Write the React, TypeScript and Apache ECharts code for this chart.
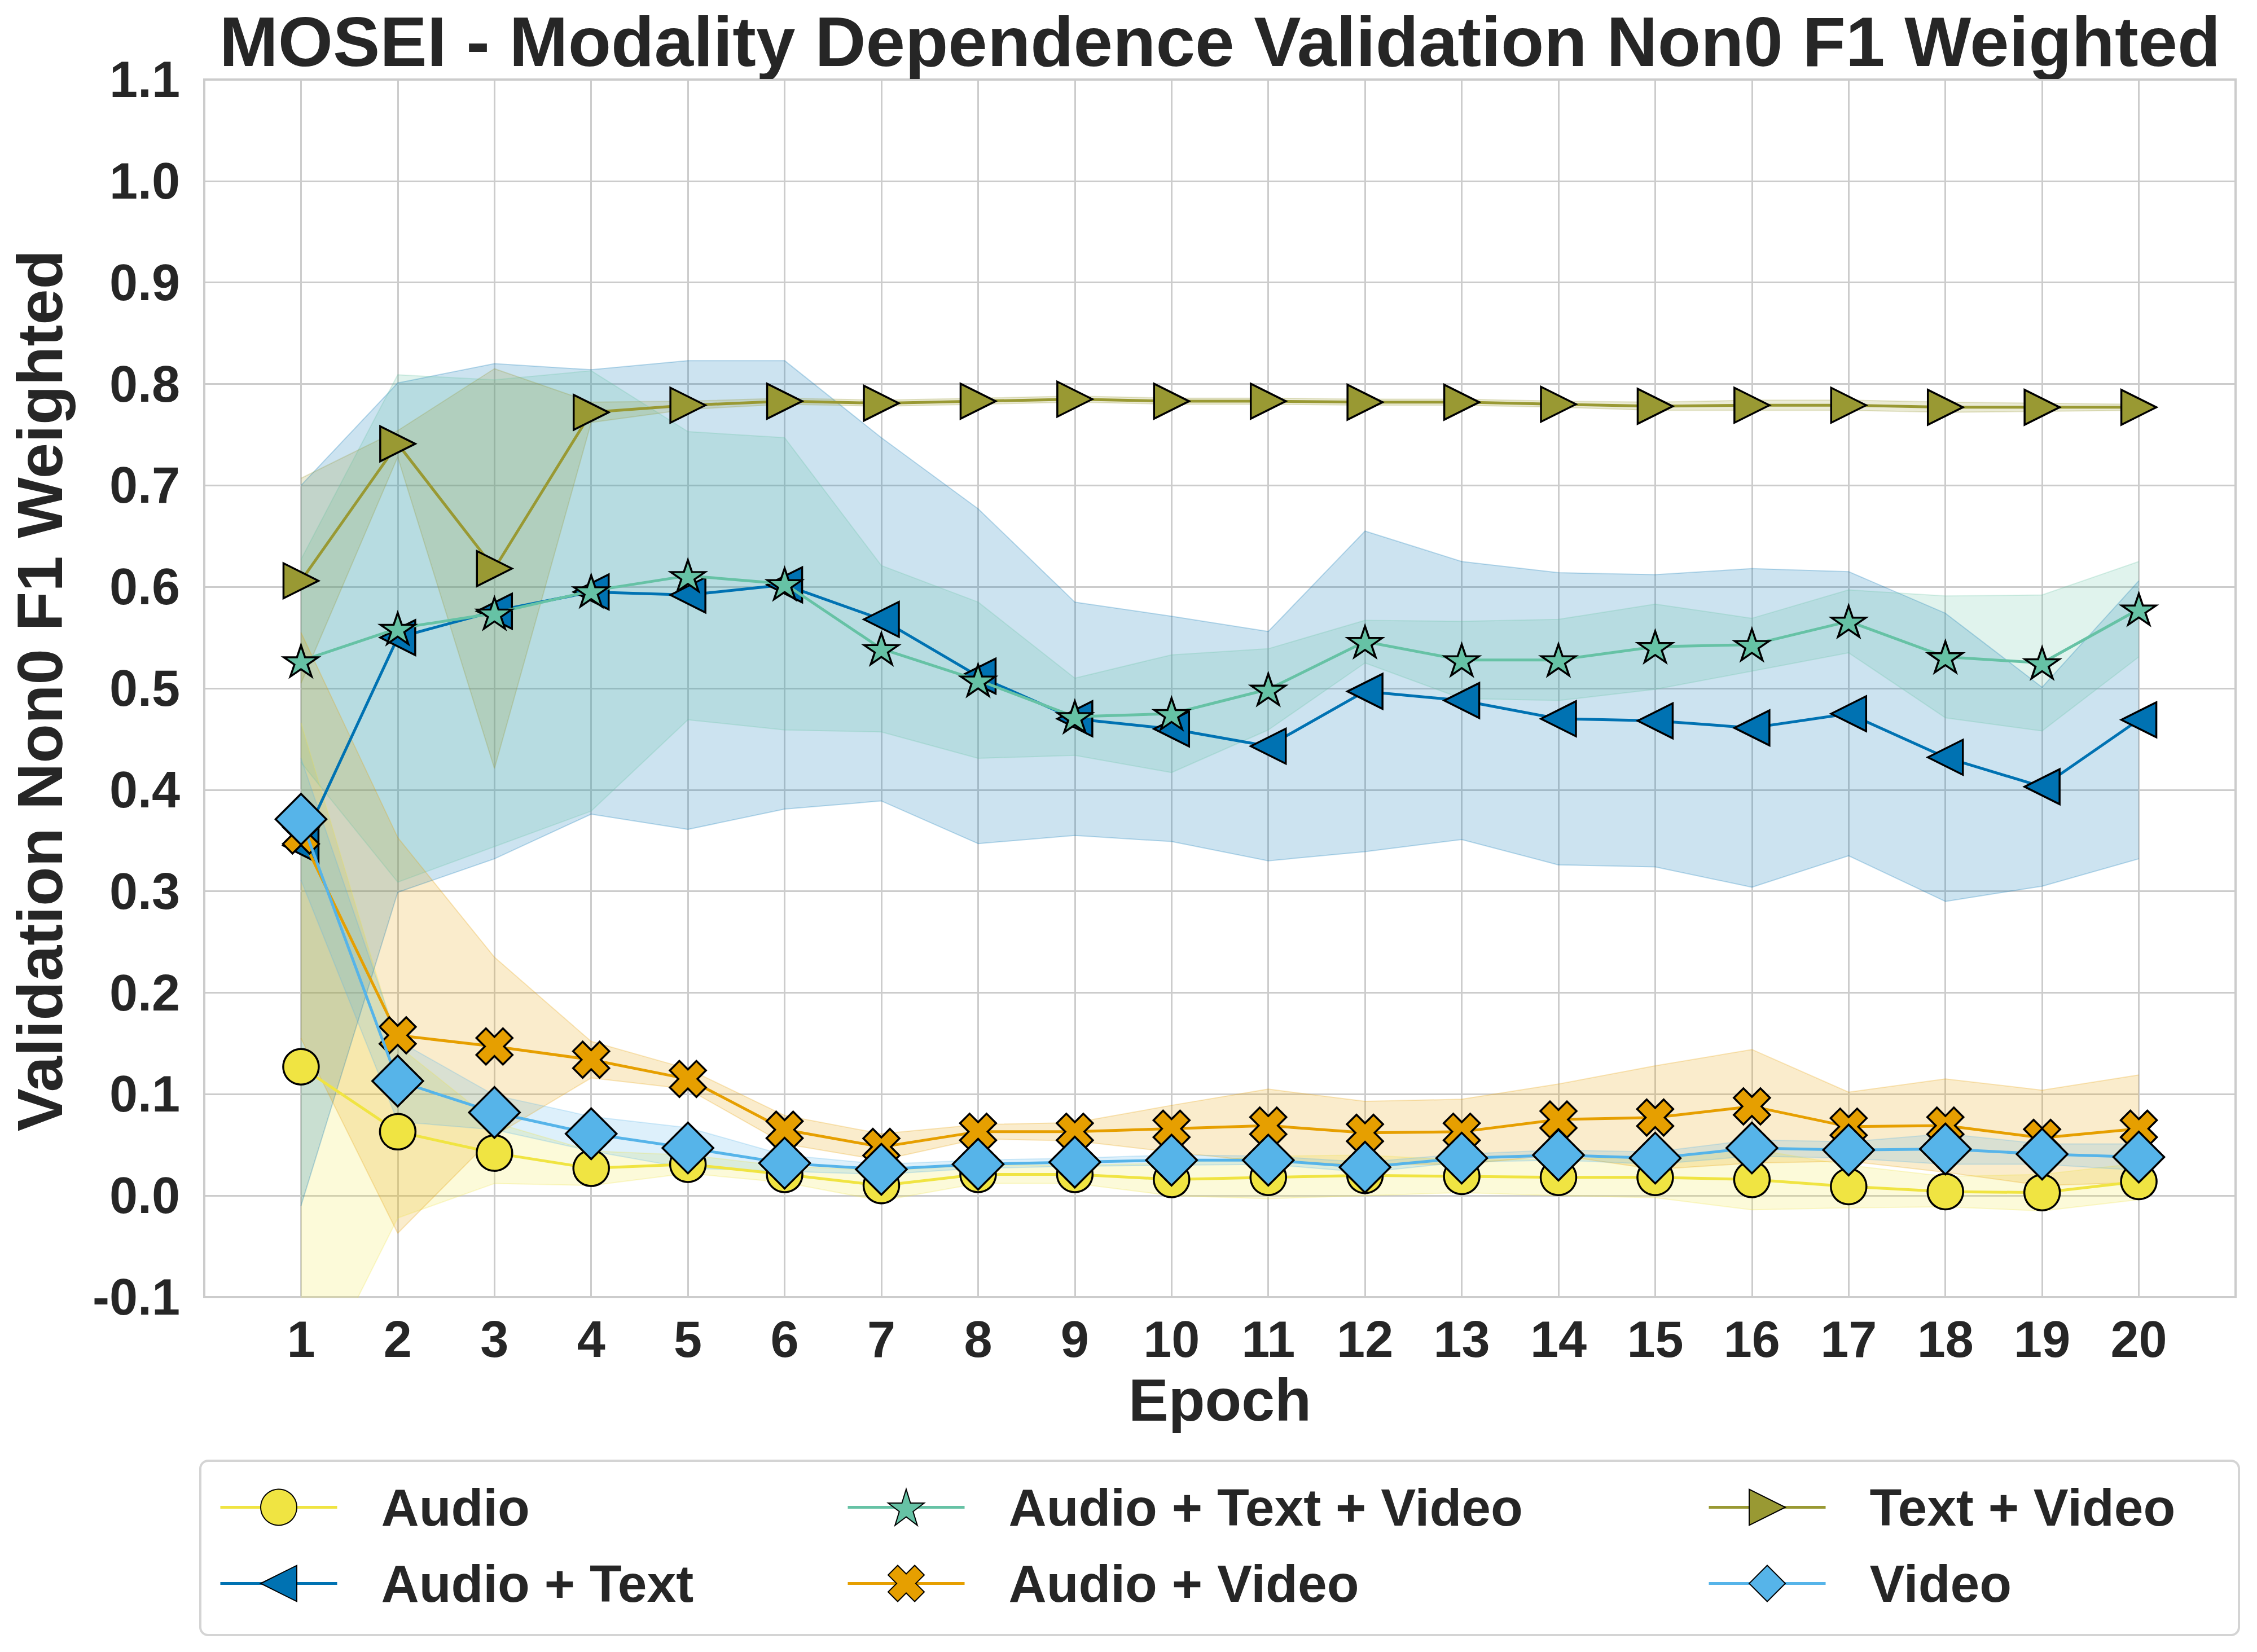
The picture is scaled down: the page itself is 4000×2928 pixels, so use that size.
import { useEffect, useRef } from "react"
import * as echarts from "echarts"

// epochs 1..20, the x axis runs from 0 to 21 like the matplotlib xlim
const epochs = [1, 2, 3, 4, 5, 6, 7, 8, 9, 10, 11, 12, 13, 14, 15, 16, 17, 18, 19, 20]

const audioMean = [0.127, 0.063, 0.042, 0.027, 0.031, 0.021, 0.01, 0.021, 0.021, 0.016, 0.018, 0.02, 0.019, 0.018, 0.018, 0.016, 0.009, 0.004, 0.003, 0.014]
const audioStd = [0.339, 0.085, 0.03, 0.017, 0.009, 0.008, 0.015, 0.009, 0.009, 0.016, 0.021, 0.02, 0.016, 0.018, 0.02, 0.03, 0.021, 0.015, 0.018, 0.018]

const audioTextMean = [0.345, 0.55, 0.576, 0.595, 0.592, 0.602, 0.568, 0.512, 0.47, 0.46, 0.443, 0.497, 0.488, 0.47, 0.468, 0.461, 0.475, 0.432, 0.403, 0.469]
const audioTextStd = [0.355, 0.251, 0.244, 0.219, 0.231, 0.221, 0.179, 0.165, 0.115, 0.111, 0.113, 0.158, 0.137, 0.144, 0.144, 0.157, 0.14, 0.142, 0.098, 0.137]

const audioTextVideoMean = [0.527, 0.559, 0.574, 0.596, 0.611, 0.603, 0.539, 0.508, 0.472, 0.475, 0.499, 0.546, 0.528, 0.528, 0.541, 0.543, 0.566, 0.531, 0.525, 0.578]
const audioTextVideoStd = [0.1, 0.25, 0.23, 0.217, 0.142, 0.144, 0.082, 0.077, 0.038, 0.058, 0.04, 0.021, 0.038, 0.04, 0.042, 0.026, 0.031, 0.06, 0.067, 0.047]

const audioVideoMean = [0.355, 0.158, 0.147, 0.134, 0.115, 0.065, 0.048, 0.063, 0.063, 0.066, 0.069, 0.062, 0.063, 0.075, 0.077, 0.088, 0.068, 0.069, 0.057, 0.066]
const audioVideoStd = [0.2, 0.195, 0.088, 0.018, 0.01, 0.014, 0.013, 0.007, 0.009, 0.023, 0.036, 0.031, 0.032, 0.035, 0.051, 0.056, 0.034, 0.046, 0.047, 0.053]

const textVideoMean = [0.606, 0.741, 0.618, 0.772, 0.779, 0.783, 0.781, 0.783, 0.785, 0.783, 0.783, 0.782, 0.782, 0.78, 0.778, 0.779, 0.779, 0.777, 0.777, 0.777]
const textVideoStd = [0.101, 0.013, 0.197, 0.01, 0.004, 0.003, 0.003, 0.003, 0.003, 0.003, 0.003, 0.003, 0.003, 0.003, 0.004, 0.005, 0.005, 0.005, 0.004, 0.003]

const videoMean = [0.371, 0.113, 0.082, 0.061, 0.047, 0.032, 0.026, 0.031, 0.033, 0.035, 0.035, 0.028, 0.037, 0.04, 0.037, 0.047, 0.045, 0.046, 0.041, 0.038]
const videoStd = [0.06, 0.04, 0.017, 0.017, 0.02, 0.008, 0.005, 0.004, 0.004, 0.005, 0.004, 0.005, 0.004, 0.005, 0.006, 0.008, 0.008, 0.015, 0.01, 0.013]

const Y_MIN = -0.1
const Y_MAX = 1.1
const Y_STEP = 0.1

const FONT = "Liberation Sans"
const INK = "#262626"

// star and filled X marker outlines (matplotlib '*' and 'X')
function starPath() {
  const pts: string[] = []
  for (let i = 0; i < 10; i++) {
    const r = i % 2 === 0 ? 1 : 0.382
    const a = -Math.PI / 2 + (i * Math.PI) / 5
    pts.push(`${(r * Math.cos(a)).toFixed(4)} ${(r * Math.sin(a)).toFixed(4)}`)
  }
  return "path://M" + pts.join(" L") + " Z"
}

function xPath() {
  const w = 0.36
  const plus = [
    [-1, -w], [-1, w], [-w, w], [-w, 1], [w, 1], [w, w],
    [1, w], [1, -w], [w, -w], [w, -1], [-w, -1], [-w, -w],
  ]
  const c = Math.SQRT1_2
  const pts = plus.map(([x, y]) => `${((x - y) * c).toFixed(4)} ${((x + y) * c).toFixed(4)}`)
  return "path://M" + pts.join(" L") + " Z"
}

const SERIES = [
  { name: "Audio", mean: audioMean, std: audioStd, color: "#F0E442", symbol: "circle", size: 63, rotate: 0 },
  { name: "Audio + Text", mean: audioTextMean, std: audioTextStd, color: "#0072B2", symbol: "triangle", size: 62, rotate: 90 },
  { name: "Audio + Text + Video", mean: audioTextVideoMean, std: audioTextVideoStd, color: "#66C2A5", symbol: starPath(), size: [61, 58], rotate: 0 },
  { name: "Audio + Video", mean: audioVideoMean, std: audioVideoStd, color: "#E69F00", symbol: xPath(), size: 64, rotate: 0 },
  { name: "Text + Video", mean: textVideoMean, std: textVideoStd, color: "#999933", symbol: "triangle", size: 62, rotate: -90 },
  { name: "Video", mean: videoMean, std: videoStd, color: "#56B4E9", symbol: "diamond", size: 90, rotate: 0 },
]

const pad = (arr: number[]) => [null, ...arr, null]

export default function App() {
  const chartRef = useRef<HTMLDivElement>(null)

  useEffect(() => {
    if (!chartRef.current) return
    document.body.style.margin = "0"
    const chart = echarts.init(chartRef.current, null, { renderer: "svg" })

    const categories = ["0", ...epochs.map(String), String(epochs.length + 1)]

    const bandSeries: any[] = []
    SERIES.forEach((s, i) => {
      const lower = s.mean.map((m, k) => m - s.std[k])
      const width = s.std.map((d) => 2 * d)
      bandSeries.push({
        type: "line",
        name: `${s.name} low`,
        data: pad(lower),
        stack: `band${i}`,
        stackStrategy: "all",
        symbol: "none",
        silent: true,
        z: 1,
        lineStyle: { color: s.color, width: 2, opacity: 0.25 },
      })
      bandSeries.push({
        type: "line",
        name: `${s.name} band`,
        data: pad(width),
        stack: `band${i}`,
        stackStrategy: "all",
        symbol: "none",
        silent: true,
        z: 1,
        lineStyle: { color: s.color, width: 2, opacity: 0.25 },
        areaStyle: { color: s.color, opacity: 0.2 },
      })
    })

    const lineSeries = SERIES.map((s, i) => ({
      type: "line",
      name: s.name,
      data: pad(s.mean),
      symbol: s.symbol,
      symbolSize: s.size,
      symbolRotate: s.rotate,
      symbolKeepAspect: true,
      showAllSymbol: true,
      z: 3 + i,
      lineStyle: { color: s.color, width: 5 },
      itemStyle: { color: s.color, borderColor: "#000", borderWidth: 3.5 },
      emphasis: { disabled: true },
    }))

    const legendCol = (left: number, names: string[]) => ({
      orient: "vertical",
      left,
      top: 2625,
      padding: 0,
      itemGap: 42,
      itemWidth: 207,
      itemHeight: 80,
      selectedMode: false,
      data: names,
      lineStyle: { width: 5, opacity: 1 },
      textStyle: {
        fontFamily: FONT,
        fontWeight: "bold",
        fontSize: 93,
        color: INK,
        lineHeight: 80,
        padding: [0, 0, 0, 73],
      },
    })

    const option: echarts.EChartsOption = {
      animation: false,
      backgroundColor: "#ffffff",
      grid: {
        left: 362,
        top: 141,
        width: 3600,
        height: 2158,
        show: true,
        borderColor: "#cccccc",
        borderWidth: 4,
        backgroundColor: "#ffffff",
      },
      xAxis: {
        type: "category",
        data: categories,
        boundaryGap: false,
        axisLine: { show: false },
        axisTick: { show: false },
        axisLabel: {
          interval: 0,
          margin: 30,
          fontFamily: FONT,
          fontWeight: "bold",
          fontSize: 90,
          color: INK,
          formatter: (v: string, idx: number) => (idx === 0 || idx === categories.length - 1 ? "" : v),
        },
        splitLine: { show: true, interval: 0, lineStyle: { color: "#cccccc", width: 3 } },
      },
      yAxis: {
        type: "value",
        min: Y_MIN,
        max: Y_MAX,
        interval: Y_STEP,
        axisLine: { show: false },
        axisTick: { show: false },
        axisLabel: {
          margin: 43,
          fontFamily: FONT,
          fontWeight: "bold",
          fontSize: 90,
          color: INK,
          formatter: (v: number) => v.toFixed(1),
        },
        splitLine: { show: true, lineStyle: { color: "#cccccc", width: 3 } },
      },
      legend: [
        legendCol(388, ["Audio", "Audio + Text"]),
        legendCol(1500, ["Audio + Text + Video", "Audio + Video"]),
        legendCol(3026, ["Text + Video", "Video"]),
      ] as any,
      graphic: [
        {
          type: "rect",
          z: 0,
          shape: { x: 355, y: 2589, width: 3613, height: 309, r: 14 },
          style: { fill: "#ffffff", stroke: "#d4d4d4", lineWidth: 4 },
        },
        {
          type: "text",
          x: 2162,
          y: 73,
          style: {
            text: "MOSEI - Modality Dependence Validation Non0 F1 Weighted",
            fontFamily: FONT,
            fontWeight: "bold",
            fontSize: 125,
            fill: INK,
            align: "center",
            verticalAlign: "middle",
            textAlign: "center",
            textVerticalAlign: "middle",
          },
        },
        {
          type: "text",
          x: 2162,
          y: 2481,
          style: {
            text: "Epoch",
            fontFamily: FONT,
            fontWeight: "bold",
            fontSize: 106,
            fill: INK,
            align: "center",
            verticalAlign: "middle",
            textAlign: "center",
            textVerticalAlign: "middle",
          },
        },
        {
          type: "text",
          x: 70,
          y: 1224,
          rotation: Math.PI / 2,
          style: {
            text: "Validation Non0 F1 Weighted",
            fontFamily: FONT,
            fontWeight: "bold",
            fontSize: 114,
            fill: INK,
            align: "center",
            verticalAlign: "middle",
            textAlign: "center",
            textVerticalAlign: "middle",
          },
        },
      ] as any,
      series: [...bandSeries, ...lineSeries] as any,
    }

    chart.setOption(option)

    return () => {
      chart.dispose()
    }
  }, [])

  return <div ref={chartRef} style={{ width: 4000, height: 2928 }} />
}
